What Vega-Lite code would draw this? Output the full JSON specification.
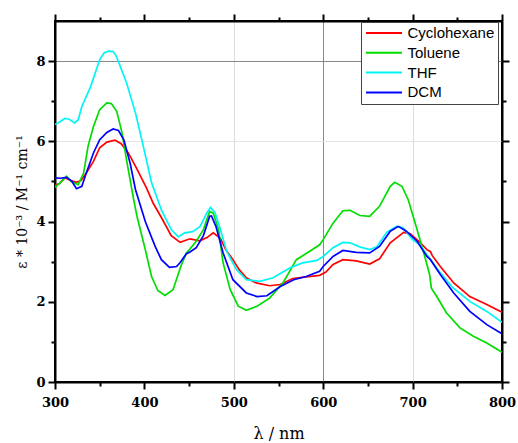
{
  "$schema": "https://vega.github.io/schema/vega-lite/v6.json",
  "width": 447,
  "height": 361,
  "autosize": {"type": "none"},
  "padding": {"left": 55, "top": 21, "right": 16, "bottom": 61},
  "background": "white",
  "config": {
    "view": {"stroke": "#000", "strokeWidth": 2},
    "axis": {
      "labelFont": "DejaVu Serif", "labelFontWeight": "bold", "labelFontSize": 13, "labelColor": "#000",
      "titleFont": "DejaVu Serif", "titleFontWeight": "normal", "titleFontSize": 16, "titleColor": "#000",
      "domainColor": "#000", "domainWidth": 2, "tickColor": "#000", "tickWidth": 2, "labelOverlap": false, "labelBound": false, "labelFlush": false
    }
  },
  "data": {"values": [
    {"s":"Cyclohexane","w":300,"v":4.9},{"s":"Cyclohexane","w":305,"v":4.95},{"s":"Cyclohexane","w":311,"v":5.09},{"s":"Cyclohexane","w":318,"v":5.02},{"s":"Cyclohexane","w":324,"v":4.98},{"s":"Cyclohexane","w":329,"v":5.02},{"s":"Cyclohexane","w":335,"v":5.21},{"s":"Cyclohexane","w":343,"v":5.5},{"s":"Cyclohexane","w":350,"v":5.84},{"s":"Cyclohexane","w":358,"v":5.98},{"s":"Cyclohexane","w":367,"v":6.03},{"s":"Cyclohexane","w":374,"v":5.94},{"s":"Cyclohexane","w":382,"v":5.71},{"s":"Cyclohexane","w":391,"v":5.34},{"s":"Cyclohexane","w":402,"v":4.85},{"s":"Cyclohexane","w":410,"v":4.45},{"s":"Cyclohexane","w":419,"v":4.1},{"s":"Cyclohexane","w":430,"v":3.65},{"s":"Cyclohexane","w":440,"v":3.48},{"s":"Cyclohexane","w":451,"v":3.57},{"s":"Cyclohexane","w":462,"v":3.52},{"s":"Cyclohexane","w":470,"v":3.6},{"s":"Cyclohexane","w":477,"v":3.72},{"s":"Cyclohexane","w":485,"v":3.58},{"s":"Cyclohexane","w":491,"v":3.3},{"s":"Cyclohexane","w":499,"v":3.05},{"s":"Cyclohexane","w":506,"v":2.8},{"s":"Cyclohexane","w":514,"v":2.6},{"s":"Cyclohexane","w":525,"v":2.47},{"s":"Cyclohexane","w":540,"v":2.4},{"s":"Cyclohexane","w":552,"v":2.43},{"s":"Cyclohexane","w":566,"v":2.58},{"s":"Cyclohexane","w":581,"v":2.62},{"s":"Cyclohexane","w":596,"v":2.66},{"s":"Cyclohexane","w":603,"v":2.74},{"s":"Cyclohexane","w":611,"v":2.93},{"s":"Cyclohexane","w":622,"v":3.05},{"s":"Cyclohexane","w":637,"v":3.02},{"s":"Cyclohexane","w":652,"v":2.94},{"s":"Cyclohexane","w":663,"v":3.07},{"s":"Cyclohexane","w":675,"v":3.47},{"s":"Cyclohexane","w":690,"v":3.73},{"s":"Cyclohexane","w":697,"v":3.7},{"s":"Cyclohexane","w":708,"v":3.49},{"s":"Cyclohexane","w":716,"v":3.3},{"s":"Cyclohexane","w":720,"v":3.25},{"s":"Cyclohexane","w":722,"v":3.15},{"s":"Cyclohexane","w":731,"v":2.88},{"s":"Cyclohexane","w":746,"v":2.47},{"s":"Cyclohexane","w":764,"v":2.13},{"s":"Cyclohexane","w":783,"v":1.93},{"s":"Cyclohexane","w":800,"v":1.74},

    {"s":"Toluene","w":300,"v":4.85},{"s":"Toluene","w":305,"v":4.95},{"s":"Toluene","w":309,"v":5.04},{"s":"Toluene","w":313,"v":5.13},{"s":"Toluene","w":318,"v":5.0},{"s":"Toluene","w":326,"v":4.92},{"s":"Toluene","w":332,"v":5.21},{"s":"Toluene","w":337,"v":5.88},{"s":"Toluene","w":343,"v":6.37},{"s":"Toluene","w":350,"v":6.79},{"s":"Toluene","w":358,"v":6.96},{"s":"Toluene","w":363,"v":6.94},{"s":"Toluene","w":369,"v":6.75},{"s":"Toluene","w":375,"v":6.21},{"s":"Toluene","w":380,"v":5.54},{"s":"Toluene","w":388,"v":4.55},{"s":"Toluene","w":392,"v":4.1},{"s":"Toluene","w":401,"v":3.3},{"s":"Toluene","w":408,"v":2.63},{"s":"Toluene","w":415,"v":2.28},{"s":"Toluene","w":423,"v":2.16},{"s":"Toluene","w":432,"v":2.3},{"s":"Toluene","w":441,"v":2.9},{"s":"Toluene","w":447,"v":3.22},{"s":"Toluene","w":451,"v":3.32},{"s":"Toluene","w":458,"v":3.51},{"s":"Toluene","w":466,"v":3.8},{"s":"Toluene","w":473,"v":4.25},{"s":"Toluene","w":477,"v":4.21},{"s":"Toluene","w":483,"v":3.8},{"s":"Toluene","w":488,"v":2.97},{"s":"Toluene","w":496,"v":2.3},{"s":"Toluene","w":505,"v":1.89},{"s":"Toluene","w":514,"v":1.79},{"s":"Toluene","w":526,"v":1.89},{"s":"Toluene","w":540,"v":2.09},{"s":"Toluene","w":555,"v":2.47},{"s":"Toluene","w":570,"v":3.05},{"s":"Toluene","w":585,"v":3.26},{"s":"Toluene","w":596,"v":3.42},{"s":"Toluene","w":600,"v":3.55},{"s":"Toluene","w":611,"v":3.96},{"s":"Toluene","w":622,"v":4.27},{"s":"Toluene","w":630,"v":4.28},{"s":"Toluene","w":641,"v":4.15},{"s":"Toluene","w":652,"v":4.13},{"s":"Toluene","w":663,"v":4.38},{"s":"Toluene","w":675,"v":4.88},{"s":"Toluene","w":680,"v":4.98},{"s":"Toluene","w":688,"v":4.88},{"s":"Toluene","w":695,"v":4.55},{"s":"Toluene","w":705,"v":3.8},{"s":"Toluene","w":714,"v":3.1},{"s":"Toluene","w":719,"v":2.68},{"s":"Toluene","w":721,"v":2.34},{"s":"Toluene","w":727,"v":2.13},{"s":"Toluene","w":738,"v":1.72},{"s":"Toluene","w":753,"v":1.35},{"s":"Toluene","w":768,"v":1.14},{"s":"Toluene","w":783,"v":0.97},{"s":"Toluene","w":800,"v":0.74},

    {"s":"THF","w":300,"v":6.42},{"s":"THF","w":305,"v":6.48},{"s":"THF","w":311,"v":6.57},{"s":"THF","w":316,"v":6.55},{"s":"THF","w":322,"v":6.46},{"s":"THF","w":326,"v":6.54},{"s":"THF","w":330,"v":6.87},{"s":"THF","w":340,"v":7.37},{"s":"THF","w":350,"v":8.04},{"s":"THF","w":355,"v":8.21},{"s":"THF","w":360,"v":8.25},{"s":"THF","w":365,"v":8.24},{"s":"THF","w":368,"v":8.15},{"s":"THF","w":370,"v":8.04},{"s":"THF","w":380,"v":7.46},{"s":"THF","w":390,"v":6.71},{"s":"THF","w":398,"v":5.95},{"s":"THF","w":408,"v":4.97},{"s":"THF","w":419,"v":4.29},{"s":"THF","w":430,"v":3.8},{"s":"THF","w":438,"v":3.62},{"s":"THF","w":445,"v":3.72},{"s":"THF","w":454,"v":3.75},{"s":"THF","w":462,"v":3.87},{"s":"THF","w":470,"v":4.22},{"s":"THF","w":474,"v":4.35},{"s":"THF","w":479,"v":4.22},{"s":"THF","w":485,"v":3.8},{"s":"THF","w":492,"v":3.26},{"s":"THF","w":503,"v":2.8},{"s":"THF","w":514,"v":2.55},{"s":"THF","w":529,"v":2.51},{"s":"THF","w":544,"v":2.6},{"s":"THF","w":563,"v":2.85},{"s":"THF","w":577,"v":2.97},{"s":"THF","w":593,"v":3.03},{"s":"THF","w":600,"v":3.13},{"s":"THF","w":611,"v":3.35},{"s":"THF","w":622,"v":3.48},{"s":"THF","w":630,"v":3.47},{"s":"THF","w":641,"v":3.37},{"s":"THF","w":652,"v":3.3},{"s":"THF","w":660,"v":3.37},{"s":"THF","w":671,"v":3.73},{"s":"THF","w":682,"v":3.88},{"s":"THF","w":689,"v":3.85},{"s":"THF","w":700,"v":3.55},{"s":"THF","w":708,"v":3.42},{"s":"THF","w":712,"v":3.3},{"s":"THF","w":731,"v":2.72},{"s":"THF","w":745,"v":2.35},{"s":"THF","w":764,"v":2.01},{"s":"THF","w":783,"v":1.76},{"s":"THF","w":800,"v":1.49},

    {"s":"DCM","w":300,"v":5.09},{"s":"DCM","w":306,"v":5.08},{"s":"DCM","w":313,"v":5.1},{"s":"DCM","w":319,"v":5.0},{"s":"DCM","w":324,"v":4.82},{"s":"DCM","w":330,"v":4.88},{"s":"DCM","w":335,"v":5.21},{"s":"DCM","w":343,"v":5.71},{"s":"DCM","w":350,"v":6.04},{"s":"DCM","w":358,"v":6.22},{"s":"DCM","w":365,"v":6.31},{"s":"DCM","w":371,"v":6.27},{"s":"DCM","w":377,"v":6.04},{"s":"DCM","w":384,"v":5.46},{"s":"DCM","w":390,"v":4.8},{"s":"DCM","w":401,"v":4.0},{"s":"DCM","w":412,"v":3.38},{"s":"DCM","w":419,"v":3.05},{"s":"DCM","w":428,"v":2.86},{"s":"DCM","w":436,"v":2.88},{"s":"DCM","w":440,"v":2.98},{"s":"DCM","w":447,"v":3.2},{"s":"DCM","w":451,"v":3.24},{"s":"DCM","w":458,"v":3.35},{"s":"DCM","w":466,"v":3.65},{"s":"DCM","w":473,"v":4.13},{"s":"DCM","w":475,"v":4.14},{"s":"DCM","w":480,"v":3.88},{"s":"DCM","w":488,"v":3.22},{"s":"DCM","w":499,"v":2.55},{"s":"DCM","w":514,"v":2.22},{"s":"DCM","w":526,"v":2.13},{"s":"DCM","w":537,"v":2.15},{"s":"DCM","w":552,"v":2.38},{"s":"DCM","w":567,"v":2.55},{"s":"DCM","w":581,"v":2.63},{"s":"DCM","w":596,"v":2.76},{"s":"DCM","w":600,"v":2.88},{"s":"DCM","w":611,"v":3.13},{"s":"DCM","w":622,"v":3.28},{"s":"DCM","w":637,"v":3.23},{"s":"DCM","w":652,"v":3.22},{"s":"DCM","w":663,"v":3.38},{"s":"DCM","w":675,"v":3.76},{"s":"DCM","w":684,"v":3.88},{"s":"DCM","w":693,"v":3.76},{"s":"DCM","w":705,"v":3.51},{"s":"DCM","w":716,"v":3.13},{"s":"DCM","w":720,"v":3.05},{"s":"DCM","w":731,"v":2.68},{"s":"DCM","w":746,"v":2.22},{"s":"DCM","w":764,"v":1.76},{"s":"DCM","w":783,"v":1.43},{"s":"DCM","w":800,"v":1.2}
  ]},
  "resolve": {"axis": {"x": "independent", "y": "independent"}},
  "layer": [
    {
      "mark": {"type": "line", "strokeWidth": 1.7, "clip": true},
      "encoding": {
        "x": {"field": "w", "type": "quantitative", "scale": {"domain": [300, 800], "nice": false, "zero": false},
          "axis": {"orient": "bottom", "title": "λ / nm", "values": [300,350,400,450,500,550,600,650,700,750,800],
            "labelExpr": "datum.value % 100 === 0 ? datum.label : ''", "labelPadding": 7, "titlePadding": 16,
            "tickSize": {"condition": {"test": "datum.value % 100 === 0", "value": 7}, "value": 4},
            "grid": true,
            "gridColor": {"condition": {"test": "datum.value === 600", "value": "#888888"}, "value": "#dcdcdc"},
            "gridOpacity": {"condition": {"test": "datum.value === 500 || datum.value === 600 || datum.value === 700", "value": 1}, "value": 0},
            "gridWidth": 1}},
        "y": {"field": "v", "type": "quantitative", "scale": {"domain": [0, 9], "nice": false},
          "axis": {"orient": "left", "title": "ε * 10⁻³ / M⁻¹ cm⁻¹", "titleFontSize": 14, "values": [0,1,2,3,4,5,6,7,8],
            "labelExpr": "datum.value % 2 === 0 ? datum.label : ''", "labelPadding": 3, "titlePadding": 6,
            "tickSize": {"condition": {"test": "datum.value % 2 === 0", "value": 7}, "value": 4},
            "grid": true,
            "gridColor": {"condition": {"test": "datum.value === 8", "value": "#888888"}, "value": "#e4e4e4"},
            "gridOpacity": {"condition": {"test": "datum.value === 6 || datum.value === 8", "value": 1}, "value": 0},
            "gridWidth": 1}},
        "color": {"field": "s", "type": "nominal",
          "scale": {"domain": ["Cyclohexane", "Toluene", "THF", "DCM"], "range": ["#ff0000", "#00dd00", "#00f5f5", "#0000ff"]},
          "legend": {"title": null, "orient": "none", "legendX": 306, "legendY": 1,
            "symbolType": "M-1,0H5", "symbolSize": 144, "symbolStrokeWidth": 2,
            "labelFont": "Liberation Sans", "labelFontSize": 15, "labelColor": "#000", "labelOffset": 28,
            "rowPadding": 3.8, "padding": 3.5, "strokeColor": "#444", "fillColor": "#ffffff", "cornerRadius": 0}},
        "order": {"field": "w", "type": "quantitative"}
      }
    },
    {
      "mark": {"type": "point", "opacity": 0},
      "encoding": {
        "x": {"field": "w", "type": "quantitative",
          "axis": {"orient": "top", "title": null, "labels": false, "grid": false, "values": [300,350,400,450,500,550,600,650,700,750,800],
            "tickSize": {"condition": {"test": "datum.value % 100 === 0", "value": 7}, "value": 4}}},
        "y": {"field": "v", "type": "quantitative",
          "axis": {"orient": "right", "title": null, "labels": false, "grid": false, "values": [0,1,2,3,4,5,6,7,8],
            "tickSize": {"condition": {"test": "datum.value % 2 === 0", "value": 7}, "value": 4}}}
      }
    }
  ]
}
